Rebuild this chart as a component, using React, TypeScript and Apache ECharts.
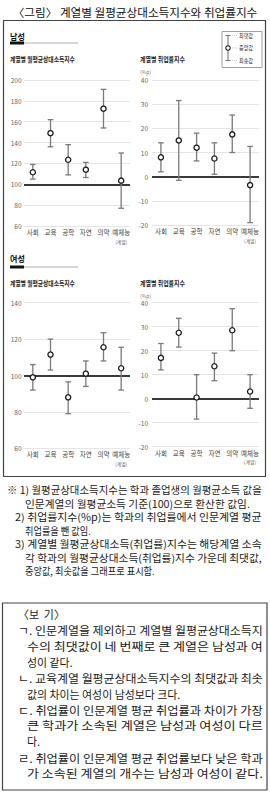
import React, { useEffect, useRef } from "react";
import * as echarts from "echarts";

const FONT = '"Noto Sans CJK KR", "Noto Sans", sans-serif';

// ---- data ----
const categories = ["사회", "교육", "공학", "자연", "의약", "예체능"];

const maleIncomeMin = [105, 136, 109, 106.5, 154, 77];
const maleIncomeMed = [111.5, 149, 123.5, 114, 172.5, 103.5];
const maleIncomeMax = [119, 162, 138, 121, 191, 130];

const maleEmpMin = [2, -1.5, 6.5, 1, 10, -19];
const maleEmpMed = [8, 15, 12, 7.5, 17.5, -3.5];
const maleEmpMax = [14, 31.5, 18, 14, 25.5, 12.5];

const femaleIncomeMin = [92, 103, 79, 94, 108, 92];
const femaleIncomeMed = [99, 111.5, 88, 101, 115.5, 104];
const femaleIncomeMax = [106, 120, 96.5, 108, 123.5, 115.5];

const femaleEmpMin = [12, 21.5, -8.5, 7.5, 20, -4];
const femaleEmpMed = [17, 27.5, 0.5, 13.5, 28.5, 3];
const femaleEmpMax = [23, 33.5, 10, 19, 37.5, 10];

const incomeBase = 100;
const empBase = 0;

const titleText = "〈그림〉 계열별 월평균상대소득지수와 취업률지수";
const incomeSubtitle = "계열별 월평균상대소득지수";
const empSubtitle = "계열별 취업률지수";
const legendLabels = ["최댓값", "중앙값", "최솟값"];

const noteTexts = [
  "※ 1) 월평균상대소득지수는 학과 졸업생의 월평균소득 값을",
  "인문계열의 월평균소득 기준(100)으로 환산한 값임.",
  "2) 취업률지수(%p)는 학과의 취업률에서 인문계열 평균",
  "취업률을 뺀 값임.",
  "3) 계열별 월평균상대소득(취업률)지수는 해당계열 소속",
  "각 학과의 월평균상대소득(취업률)지수 가운데 최댓값,",
  "중앙값, 최솟값을 그래프로 표시함.",
];

const bogiTexts = [
  "〈보  기〉",
  "ㄱ. 인문계열을 제외하고 계열별 월평균상대소득지",
  "수의 최댓값이 네 번째로 큰 계열은 남성과 여",
  "성이 같다.",
  "ㄴ. 교육계열 월평균상대소득지수의 최댓값과 최솟",
  "값의 차이는 여성이 남성보다 크다.",
  "ㄷ. 취업률이 인문계열 평균 취업률과 차이가 가장",
  "큰 학과가 소속된 계열은 남성과 여성이 다르",
  "다.",
  "ㄹ. 취업률이 인문계열 평균 취업률보다 낮은 학과",
  "가 소속된 계열의 개수는 남성과 여성이 같다.",
];

// ---- layout (positions only) ----
const noteLayout = [
  { x: 7, y: 490, w: 255 },
  { x: 25, y: 503.5, w: 225 },
  { x: 15, y: 517, w: 247 },
  { x: 25, y: 530.5, s: 0.92 },
  { x: 15, y: 544, w: 247 },
  { x: 25, y: 557.5, w: 237 },
  { x: 25, y: 571, s: 0.92 },
];
const bogiLayout = [
  { x: 18, y: 614, s: 0.95 },
  { x: 18, y: 630, w: 245 },
  { x: 27, y: 645.9, w: 236 },
  { x: 27, y: 661.8, s: 0.95 },
  { x: 18, y: 677.7, w: 245 },
  { x: 27, y: 693.6, s: 0.95 },
  { x: 18, y: 709.5, w: 245 },
  { x: 27, y: 725.4, w: 236 },
  { x: 27, y: 741.3, s: 0.95 },
  { x: 18, y: 757.2, w: 245 },
  { x: 27, y: 773.1, w: 236 },
];

let measureCtx: CanvasRenderingContext2D | null = null;
function measure(text: string, size: number, weight: string) {
  if (!measureCtx) measureCtx = document.createElement("canvas").getContext("2d");
  if (!measureCtx) return text.length * size;
  measureCtx.font = `${weight} ${size}px ${FONT}`;
  return measureCtx.measureText(text).width;
}

function txt(text: string, x: number, y: number, size: number, o: any = {}) {
  const weight = o.weight || "normal";
  let sx = o.scale ?? 1;
  if (o.target) sx = o.target / measure(text, size, weight);
  return {
    type: "text",
    x,
    y,
    scaleX: sx,
    silent: true,
    style: {
      text,
      x: 0,
      y: 0,
      fontSize: size,
      fontWeight: weight,
      fontFamily: FONT,
      fill: o.color || "#222",
      align: o.align || "left",
      verticalAlign: "middle",
    },
  };
}

function triples(min: number[], med: number[], max: number[]) {
  return min.map((v, i) => [i, v, med[i], max[i]]);
}

export default function App() {
  const ref = useRef<HTMLDivElement>(null);
  useEffect(() => {
    document.body.style.margin = "0";
    const chart = echarts.init(ref.current!, null, { renderer: "svg" });

    const grids = [
      { left: 24, top: 80, width: 106, height: 146 },
      { left: 152, top: 80, width: 107, height: 145 },
      { left: 24, top: 302.7, width: 106, height: 145.6 },
      { left: 152, top: 302.7, width: 107, height: 144 },
    ];
    const yRanges = [
      { min: 60, max: 200, interval: 20 },
      { min: -20, max: 40, interval: 10 },
      { min: 60, max: 140, interval: 20 },
      { min: -20, max: 40, interval: 10 },
    ];
    const seriesData = [
      triples(maleIncomeMin, maleIncomeMed, maleIncomeMax),
      triples(maleEmpMin, maleEmpMed, maleEmpMax),
      triples(femaleIncomeMin, femaleIncomeMed, femaleIncomeMax),
      triples(femaleEmpMin, femaleEmpMed, femaleEmpMax),
    ];
    const bases = [incomeBase, empBase, incomeBase, empBase];

    const renderItem = (params: any, api: any) => {
      const i = api.value(0);
      const lo = api.coord([i, api.value(1)]);
      const mid = api.coord([i, api.value(2)]);
      const hi = api.coord([i, api.value(3)]);
      const c = 2.8;
      const ws = { stroke: "#7a7a7a", lineWidth: 1.3 };
      return {
        type: "group",
        children: [
          { type: "line", shape: { x1: lo[0], y1: lo[1], x2: hi[0], y2: hi[1] }, style: ws },
          { type: "line", shape: { x1: hi[0] - c, y1: hi[1], x2: hi[0] + c, y2: hi[1] }, style: ws },
          { type: "line", shape: { x1: lo[0] - c, y1: lo[1], x2: lo[0] + c, y2: lo[1] }, style: ws },
          {
            type: "circle",
            shape: { cx: mid[0], cy: mid[1], r: 2.6 },
            style: { fill: "#fff", stroke: "#1a1a1a", lineWidth: 1.3 },
          },
        ],
      };
    };

    const G: any[] = [];
    // title
    G.push(txt(titleText, 135, 12, 11, { target: 245, align: "center", color: "#111" }));
    // outer box
    G.push({
      type: "rect",
      silent: true,
      shape: { x: 3.5, y: 20.5, width: 262, height: 456 },
      style: { fill: "none", stroke: "#444", lineWidth: 1.2 },
    });
    // section headers
    const section = (label: string, y: number, uy: number) => {
      G.push(txt(label, 10, y, 8.5, { weight: "bold", color: "#111", scale: 0.95 }));
      G.push({ type: "rect", silent: true, shape: { x: 10, y: uy - 1.5, width: 14, height: 3 }, style: { fill: "#111" } });
      G.push({ type: "line", silent: true, shape: { x1: 24, y1: uy, x2: 78, y2: uy }, style: { stroke: "#999", lineWidth: 0.8 } });
    };
    section("남성", 36, 43);
    section("여성", 258, 267);
    // subtitles
    const subs = (y: number) => {
      G.push(txt(incomeSubtitle, 10, y, 6.5, { weight: "bold", target: 65, color: "#222" }));
      G.push(txt(empSubtitle, 140, y, 6.5, { weight: "bold", target: 45, color: "#222" }));
      G.push(txt("(%p)", 140, y + 11.5, 5, { color: "#777" }));
    };
    subs(59.5);
    subs(283.5);
    // legend
    G.push({
      type: "rect",
      silent: true,
      shape: { x: 222, y: 31.5, width: 40, height: 36 },
      style: { fill: "#fff", stroke: "#888", lineWidth: 0.8 },
    });
    const lx = 228;
    const ly = [35.5, 48, 60.5];
    const ls = { stroke: "#7a7a7a", lineWidth: 1.1 };
    G.push({ type: "line", silent: true, shape: { x1: lx, y1: ly[0], x2: lx, y2: ly[2] }, style: ls });
    G.push({ type: "line", silent: true, shape: { x1: lx - 2.5, y1: ly[0], x2: lx + 2.5, y2: ly[0] }, style: ls });
    G.push({ type: "line", silent: true, shape: { x1: lx - 2.5, y1: ly[2], x2: lx + 2.5, y2: ly[2] }, style: ls });
    G.push({
      type: "circle",
      silent: true,
      shape: { cx: lx, cy: ly[1], r: 2.2 },
      style: { fill: "#fff", stroke: "#1a1a1a", lineWidth: 1.1 },
    });
    legendLabels.forEach((l, k) => {
      G.push({
        type: "line",
        silent: true,
        shape: { x1: lx + 4, y1: ly[k], x2: 238, y2: ly[k] },
        style: { stroke: "#aaa", lineWidth: 0.6, lineDash: [1, 1] },
      });
      G.push(txt(l, 239, ly[k], 6, { color: "#333", scale: 0.85 }));
    });
    // notes
    noteTexts.forEach((t, k) => {
      const L: any = noteLayout[k];
      G.push(txt(t, L.x, L.y, 10, { target: L.w, scale: L.s, color: "#1a1a1a" }));
    });
    // bogi box
    G.push({
      type: "rect",
      silent: true,
      shape: { x: 2.5, y: 603, width: 264.5, height: 187 },
      style: { fill: "none", stroke: "#444", lineWidth: 1.2 },
    });
    bogiTexts.forEach((t, k) => {
      const L: any = bogiLayout[k];
      G.push(txt(t, L.x, L.y, 11.5, { target: L.w, scale: L.s, color: "#1a1a1a" }));
    });

    chart.setOption({
      animation: false,
      backgroundColor: "#fff",
      grid: grids.map((g) => ({ ...g, containLabel: false })),
      xAxis: grids.map((_, gi) => ({
        type: "category",
        gridIndex: gi,
        data: categories,
        axisLine: { show: false },
        axisTick: { show: false },
        splitLine: { show: false },
        axisLabel: {
          fontSize: 6.5,
          color: "#444",
          fontFamily: FONT,
          margin: 1.5,
          lineHeight: 9,
          interval: 0,
          formatter: (v: string) => (v === "예체능" ? "예체능\n{s|(계열)}" : v),
          rich: { s: { fontSize: 4.8, color: "#666", lineHeight: 9, fontFamily: FONT } },
        },
      })),
      yAxis: yRanges.map((r, gi) => ({
        type: "value",
        gridIndex: gi,
        min: r.min,
        max: r.max,
        interval: r.interval,
        axisLine: { show: false },
        axisTick: { show: false },
        axisLabel: { fontSize: 6.5, color: "#666", fontFamily: FONT, margin: gi % 2 === 0 ? 2.5 : 4 },
        splitLine: { show: true, lineStyle: { color: "#dedede", width: 0.8 } },
      })),
      series: seriesData.map((d, gi) => ({
        type: "custom",
        xAxisIndex: gi,
        yAxisIndex: gi,
        z: 3,
        encode: { x: 0, y: [1, 2, 3] },
        data: d,
        renderItem,
        markLine: {
          z: 1,
          silent: true,
          symbol: "none",
          label: { show: false },
          lineStyle: { color: "#3a3a3a", width: 2, type: "solid" },
          data: [{ yAxis: bases[gi] }],
        },
      })),
      graphic: { elements: G },
    });
    return () => chart.dispose();
  }, []);
  return <div ref={ref} style={{ width: 270, height: 795 }} />;
}
